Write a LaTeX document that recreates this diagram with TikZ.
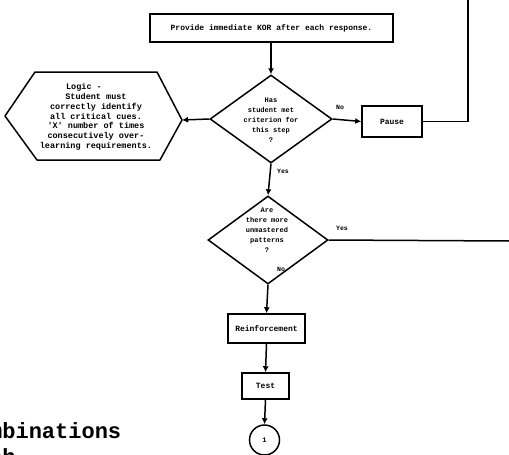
\documentclass[tikz,border=0pt]{standalone}
\usepackage{fontspec}
\setmonofont{Liberation Mono}
\usetikzlibrary{arrows.meta,shapes.geometric}
\begin{document}
\begin{tikzpicture}[x=1pt,y=-1pt,
  ln/.style={line width=1.5pt},
  arr/.style={ln,-{Latex[length=6pt,width=6pt]}},
  stepbox/.style={draw,line width=1.5pt,rectangle,inner sep=0pt,
    font=\ttfamily\bfseries\fontsize{8}{9}\selectfont},
  decision/.style={draw,line width=1.5pt,diamond,inner sep=0pt},
  dtext/.style={align=center,inner sep=0pt,
    font=\ttfamily\bfseries\fontsize{7}{10}\selectfont},
  tag/.style={inner sep=0pt,font=\ttfamily\bfseries\fontsize{6.5}{7}\selectfont},
  pagetext/.style={anchor=base west,inner sep=0pt,
    font=\ttfamily\bfseries\fontsize{22}{25}\selectfont},
]
\useasboundingbox (0,0) rectangle (509,455);

% process boxes
\node[stepbox,minimum width=243pt,minimum height=28pt] (kor) at (271.5,28)
  {Provide immediate KOR after each response.};
\node[stepbox,minimum width=60pt,minimum height=31pt] (pause) at (392,121.5) {Pause};
\node[stepbox,minimum width=77pt,minimum height=29pt] (reinf) at (266.5,328.5) {Reinforcement};
\node[stepbox,minimum width=47pt,minimum height=26pt] (test) at (265.5,386) {Test};
\node[draw,circle,line width=1.5pt,minimum size=30pt,inner sep=0pt,
  font=\ttfamily\bfseries\fontsize{7}{8}\selectfont] (conn) at (264.5,440) {1};

% decisions
\node[decision,minimum width=122pt,minimum height=88pt] (d1) at (271,119) {};
\node[dtext] (d1t) at (271,120) {Has\\student met\\criterion for\\this step\\?};
\node[decision,minimum width=120pt,minimum height=88pt] (d2) at (268,240) {};
\node[dtext] (d2t) at (267,230) {Are\\there more\\unmastered\\patterns\\?};

% logic hexagon
\coordinate (hl) at (5,116);
\coordinate (htl) at (35,72);
\coordinate (htr) at (157,72);
\coordinate (hr) at (182,120);
\coordinate (hbr) at (160,160);
\coordinate (hbl) at (37,160);
\draw[ln,line join=round] (hl) -- (htl) -- (htr) -- (hr) -- (hbr) -- (hbl) -- cycle;
\node[align=center,inner sep=0pt,
  font=\ttfamily\bfseries\fontsize{8.5}{9.8}\selectfont] (logic) at (96,117)
  {Logic -\rule{24pt}{0pt}\\Student must\\correctly identify\\all critical cues.\\
   'X' number of times\\consecutively over-\\learning requirements.};

% connectors
\coordinate (top) at (468,0);
\coordinate (exit) at (509,241);
\draw[arr] (d1.north |- kor.south) -- (d1.north);
\draw[arr] (d1.east) -- (pause.west);
\draw[arr] (d1.west) -- (hr);
\draw[ln] (pause.east) -| (top);
\draw[arr] (d1.south) -- (d2.north);
\draw[ln] (d2.east) -- (exit);
\draw[arr] (d2.south) -- (reinf.north);
\draw[arr] (reinf.south) -- (test.north);
\draw[arr] (test.south) -- (conn.north);

% branch labels
\node[tag] (no1) at (340,107) {No};
\node[tag] (yes1) at (283,171) {Yes};
\node[tag] (yes2) at (342,228) {Yes};
\node[tag] (no2) at (281,269) {No};

% running text at the page edge
\node[pagetext] (line1) at (-11,438) {mbinations};
\node[pagetext] (line2) at (-11,464) {ch};
\end{tikzpicture}
\end{document}
